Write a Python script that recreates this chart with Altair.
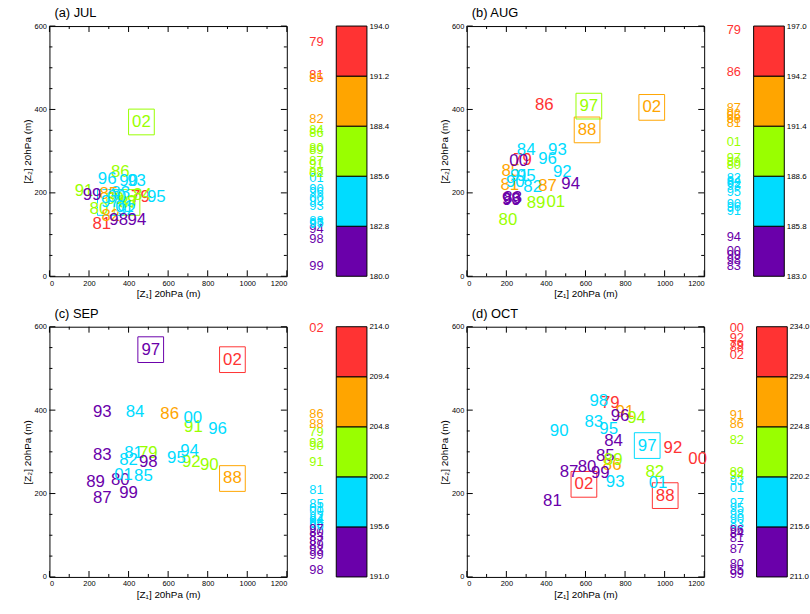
import altair as alt
import pandas as pd

FONT = "Liberation Sans"

years = ["79", "80", "81", "82", "83", "84", "85", "86", "87", "88", "89", "90",
         "91", "92", "93", "94", "95", "96", "97", "98", "99", "00", "01", "02"]
boxed = ["88", "97", "02"]

# (a) JUL
jul_x = [460, 250, 265, 310, 360, 470, 300, 358, 400, 392, 330, 400,
         175, 390, 440, 442, 540, 292, 308, 350, 215, 340, 380, 465]
jul_y = [190, 162, 126, 145, 200, 195, 197, 250, 175, 177, 185, 228,
         205, 160, 228, 136, 190, 232, 177, 136, 195, 190, 165, 370]
jul_v = [193.1, 187.2, 191.25, 188.8, 183.1, 188.2, 191.1, 188.0, 186.45, 185.85, 187.05, 184.9,
         186.3, 184.2, 183.95, 182.65, 183.0, 184.7, 182.95, 182.1, 180.6, 184.35, 185.5, 185.75]
jul_ticks = [180.0, 182.8, 185.6, 188.4, 191.2, 194.0]

# (b) AUG
aug_x = [282, 208, 217, 333, 232, 300, 222, 392, 408, 608, 350, 245,
         265, 483, 458, 525, 300, 408, 617, 225, 226, 262, 450, 935]
aug_y = [278, 134, 218, 213, 188, 303, 252, 410, 217, 351, 175, 225,
         240, 250, 302, 220, 240, 281, 408, 186, 182, 277, 177, 405]
aug_v = [196.8, 189.2, 191.55, 188.5, 183.6, 188.35, 191.95, 194.4, 192.4, 191.8, 189.4, 187.05,
         186.65, 188.2, 188.05, 185.2, 187.7, 186.85, 189.6, 183.9, 184.2, 184.4, 190.5, 192.1]
aug_ticks = [183.0, 185.8, 188.6, 191.4, 194.2, 197.0]

# (c) SEP
sep_x = [500, 358, 425, 400, 267, 433, 475, 608, 267, 925, 233, 808,
         728, 717, 267, 708, 642, 850, 512, 500, 400, 725, 375, 925]
sep_y = [296, 232, 296, 280, 292, 396, 243, 390, 190, 236, 227, 268,
         359, 276, 396, 301, 284, 355, 545, 276, 202, 382, 244, 521]
sep_v = [204.3, 195.1, 199.0, 196.5, 194.7, 196.3, 197.7, 206.0, 194.3, 205.1, 193.9, 203.0,
         201.6, 203.3, 193.5, 196.1, 195.9, 195.7, 195.4, 191.6, 193.0, 197.05, 197.3, 213.9]
sep_ticks = [191.0, 195.6, 200.2, 204.8, 209.4, 214.0]

# (d) OCT
oct_x = [725, 608, 433, 950, 642, 742, 700, 735, 517, 1003, 740, 467,
         800, 1042, 750, 858, 717, 775, 912, 667, 675, 1167, 967, 592]
oct_y = [418, 264, 183, 251, 371, 325, 290, 268, 251, 195, 280, 349,
         395, 309, 227, 381, 355, 385, 315, 422, 248, 282, 225, 222]
oct_v = [232.3, 212.2, 214.6, 223.6, 215.9, 215.0, 211.6, 225.1, 213.6, 232.1, 220.6, 216.3,
         225.9, 233.0, 219.8, 220.4, 217.3, 215.3, 217.8, 216.8, 211.3, 233.9, 219.2, 231.4]
oct_ticks = [211.0, 215.6, 220.2, 224.8, 229.4, 234.0]

colors = ["#6a00aa", "#00dcff", "#99ff00", "#ffa500", "#ff3333"]

x_major = [0, 200, 400, 600, 800, 1000, 1200]
x_minor = [100, 300, 500, 700, 900, 1100]
y_major = [0, 200, 400, 600]
y_minor = [50, 100, 150, 250, 300, 350, 450, 500, 550]

W, H = 240, 253


def make_axes():
    xax = alt.Axis(values=x_major, format="d", title="[Z\u2081]  20hPa (m)", ticks=False,
                   domain=False, grid=False, labelFontSize=7.5, labelPadding=3,
                   titleFontSize=10, titleFontWeight="normal", titlePadding=2)
    yax = alt.Axis(values=y_major, format="d", title="[Z\u2082]  20hPa (m)", ticks=False,
                   domain=False, grid=False, labelFontSize=7.5, labelPadding=3,
                   titleFontSize=10, titleFontWeight="normal", titlePadding=2)
    return xax, yax


def tick_layers(xsc, ysc, xax, yax):
    layers = []
    for vals, ln in ((x_major, 6), (x_minor, 3)):
        d = alt.Data(values=[{"t": v} for v in vals])
        layers.append(alt.Chart(d).mark_rule(color="black", strokeWidth=1).encode(
            x=alt.X("t:Q", scale=xsc, axis=xax), y=alt.value(H), y2=alt.value(H - ln)))
        layers.append(alt.Chart(d).mark_rule(color="black", strokeWidth=1).encode(
            x=alt.X("t:Q", scale=xsc, axis=xax), y=alt.value(0), y2=alt.value(ln)))
    for vals, ln in ((y_major, 6), (y_minor, 3)):
        d = alt.Data(values=[{"t": v} for v in vals])
        layers.append(alt.Chart(d).mark_rule(color="black", strokeWidth=1).encode(
            y=alt.Y("t:Q", scale=ysc, axis=yax), x=alt.value(0), x2=alt.value(ln)))
        layers.append(alt.Chart(d).mark_rule(color="black", strokeWidth=1).encode(
            y=alt.Y("t:Q", scale=ysc, axis=yax), x=alt.value(W), x2=alt.value(W - ln)))
    return layers


def panel(title, xs, ys, vs, ticks):
    df = pd.DataFrame({"year": years, "x": xs, "y": ys, "v": vs})
    cscale = alt.Scale(type="threshold", domain=ticks[1:-1], range=colors)
    xsc = alt.Scale(domain=[0, 1200], nice=False, zero=False)
    ysc = alt.Scale(domain=[0, 600], nice=False, zero=False)
    xax, yax = make_axes()
    base = alt.Chart(df)
    text = base.mark_text(fontSize=17, font=FONT, baseline="middle", align="center").encode(
        x=alt.X("x:Q", scale=xsc, axis=xax),
        y=alt.Y("y:Q", scale=ysc, axis=yax),
        text="year:N",
        color=alt.Color("v:Q", scale=cscale, legend=None),
    )
    boxes = base.transform_filter(
        alt.FieldOneOfPredicate(field="year", oneOf=boxed)
    ).mark_point(shape="square", size=676, filled=False, strokeWidth=1, opacity=1).encode(
        x=alt.X("x:Q", scale=xsc, axis=xax),
        y=alt.Y("y:Q", scale=ysc, axis=yax),
        color=alt.Color("v:Q", scale=cscale, legend=None),
    )
    scatter = alt.layer(*tick_layers(xsc, ysc, xax, yax), boxes, text).properties(
        width=W, height=H,
        title=alt.TitleParams(title, anchor="start", frame="group", dx=5, fontSize=13,
                              fontWeight="normal", font=FONT, offset=2),
    )
    vsc = alt.Scale(domain=[ticks[0], ticks[-1]], nice=False, zero=False)
    col = base.mark_text(fontSize=13, font=FONT, baseline="middle", align="center").encode(
        y=alt.Y("v:Q", scale=vsc, axis=None),
        x=alt.value(18),
        text="year:N",
        color=alt.Color("v:Q", scale=cscale, legend=None),
    ).properties(width=36, height=H, view=alt.ViewBackground(stroke="transparent"))
    bins = pd.DataFrame({"lo": ticks[:-1], "hi": ticks[1:]})
    bar = alt.Chart(bins).transform_calculate(
        mid="(datum.lo + datum.hi) / 2"
    ).mark_rect(stroke="black", strokeWidth=1).encode(
        y=alt.Y("lo:Q", scale=vsc,
                axis=alt.Axis(orient="right", values=ticks, format=".1f", title=None,
                              domain=False, grid=False, ticks=False, labelFontSize=8,
                              labelPadding=2)),
        y2="hi:Q",
        x=alt.value(0), x2=alt.value(31),
        color=alt.Color("mid:Q", scale=cscale, legend=None),
    ).properties(width=31, height=H, view=alt.ViewBackground(stroke="transparent"))
    right = alt.hconcat(col, bar, spacing=0).resolve_scale(color="independent", y="independent")
    return alt.hconcat(scatter, right, spacing=10).resolve_scale(
        color="independent", y="independent", x="independent")


pa = panel("(a) JUL", jul_x, jul_y, jul_v, jul_ticks)
pb = panel("(b) AUG", aug_x, aug_y, aug_v, aug_ticks)
pc = panel("(c) SEP", sep_x, sep_y, sep_v, sep_ticks)
pd_ = panel("(d) OCT", oct_x, oct_y, oct_v, oct_ticks)

row1 = alt.hconcat(pa, pb, spacing=49).resolve_scale(color="independent", x="independent", y="independent")
row2 = alt.hconcat(pc, pd_, spacing=49).resolve_scale(color="independent", x="independent", y="independent")

chart = alt.vconcat(row1, row2, spacing=8).resolve_scale(
    color="independent", x="independent", y="independent"
).properties(
    padding={"left": 21, "top": 3, "right": 0, "bottom": 0},
    background="white",
).configure_view(stroke="black", strokeWidth=1).configure_axis(
    labelFont=FONT, titleFont=FONT, labelColor="black", titleColor="black"
).configure_title(font=FONT, color="black")

chart.save("out.html", embed_options={"renderer": "svg", "actions": False})
